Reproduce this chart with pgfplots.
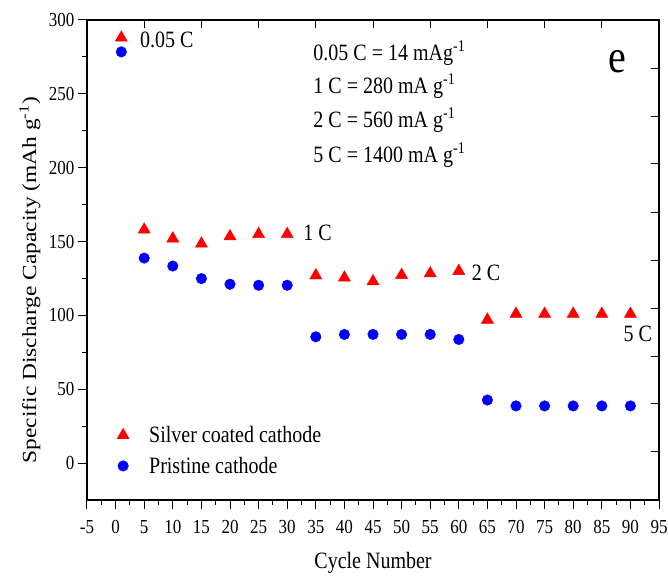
\documentclass[border=0pt]{standalone}
\usepackage{fontspec}
\setmainfont{Liberation Serif}
\usepackage{pgfplots}
\pgfplotsset{compat=1.18}
\begin{document}
\begin{tikzpicture}
\useasboundingbox (-87pt,-77pt) rectangle (581pt,500pt);
\begin{axis}[
  scale only axis, width=572pt, height=480pt,
  xmin=-5, xmax=95, ymin=-25, ymax=300,
  xtick={-5,0,...,95}, ytick={0,50,...,300},
  minor x tick num=1, minor y tick num=1,
  xtick pos=left, ytick pos=left, tick align=outside,
  major tick length=9pt, minor tick length=5pt,
  tick style={black, line width=1pt},
  axis line style={line width=1.2pt},
  ticklabel style={font=\fontsize{17}{17}\selectfont, yscale=1.17},
  xticklabel style={yshift=-6pt},
  /pgf/number format/assume math mode=true,
  xlabel={Cycle Number},
  ylabel={Specific Discharge Capacity (mAh g\textsuperscript{-1})},
  label style={font=\fontsize{20}{20}\selectfont},
  xlabel style={at={(axis description cs:0.5,-0.131)}, anchor=center, yscale=1.17},
  ylabel style={at={(axis description cs:-0.0997,0.458)}, anchor=center, xscale=1.17},
  legend style={at={(axis cs:-0.3,28)}, anchor=north west, draw=none, fill=none,
    font=\fontsize{20}{24}\selectfont, row sep=8pt, nodes={yscale=1.17}},
  legend cell align=left,
  legend image code/.code={\draw[#1] plot coordinates {(0pt,0pt)}; \path[draw=none] (0pt,0pt) -- (24pt,0pt);},
]
\addplot[only marks, mark=triangle*, mark size=7pt, color=red] coordinates {
(1,288) (5,158) (10,152) (15,148.5) (20,153.5) (25,155) (30,155) (35,127) (40,125.5) (45,123) (50,127.3) (55,128.4) (60,130) (65,97) (70,101) (75,101) (80,101) (85,101) (90,101)};
\addlegendentry{Silver coated cathode}
\addplot[only marks, mark=*, mark size=5.3pt, color=blue] coordinates {
(1,278.4) (5,138.8) (10,133.4) (15,124.9) (20,121.1) (25,120.4) (30,120.4) (35,85.5) (40,87.1) (45,87.1) (50,87.1) (55,87.1) (60,83.7) (65,42.7) (70,38.7) (75,38.7) (80,38.7) (85,38.7) (90,38.7)};
\addlegendentry{Pristine cathode}
\begin{scope}[every node/.style={font=\fontsize{20}{20}\selectfont, inner sep=0pt, anchor=base west, yscale=1.17}]
\node at (axis cs:4.27,281.3) {0.05 C};
\node at (axis cs:32.8,150.8) {1 C};
\node at (axis cs:62.25,123.8) {2 C};
\node at (axis cs:88.76,82.1) {5 C};
\node at (axis cs:34.56,272.4) {0.05 C = 14 mAg\textsuperscript{-1}};
\node at (axis cs:34.56,250.2) {1 C = 280 mA g\textsuperscript{-1}};
\node at (axis cs:34.56,227.3) {2 C = 560 mA g\textsuperscript{-1}};
\node at (axis cs:34.56,203.6) {5 C = 1400 mA g\textsuperscript{-1}};
\node[font=\fontsize{40}{40}\selectfont] at (axis cs:86.2,264.4) {e};
\end{scope}
\end{axis}
\begin{axis}[
  scale only axis, width=572pt, height=480pt,
  xmin=-5, xmax=95, ymin=-25, ymax=300,
  axis line style={draw=none},
  xtick={5,15,...,85}, ytick={7.6,40,72,104.8,137,169.9,202.8,234.5,267},
  xtick pos=right, ytick pos=right, tick align=inside,
  major tick length=8pt,
  xticklabels={}, yticklabels={},
  tick style={black, line width=1pt},
]
\addplot[draw=none] coordinates {(0,0)};
\end{axis}
\end{tikzpicture}
\end{document}
